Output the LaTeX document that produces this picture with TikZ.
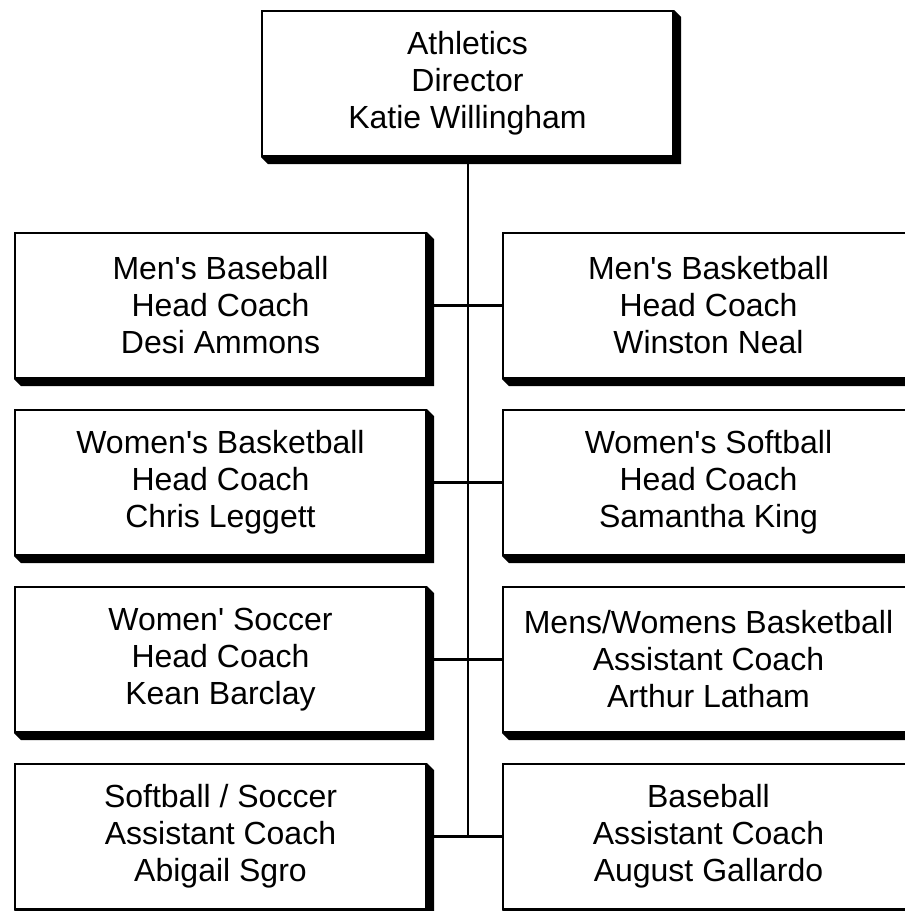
\documentclass[tikz,border=0pt]{standalone}
\usepackage{fontspec}
\setmainfont{Liberation Sans}[Ligatures=TeXOff]
\usetikzlibrary{calc}
\tikzset{
  orgbox/.style={draw=black, fill=white, line width=2pt, rectangle,
    minimum width=411pt, minimum height=145pt, inner sep=0pt,
    align=center, font=\fontsize{32}{37}\selectfont},
  link/.style={draw=black, line width=2.2pt}
}
\newcommand{\boxshadow}[1]{%
  \fill[black] (#1.north east) -- ++(7,7) -- ($(#1.south east)+(7,7)$)
    -- ($(#1.south west)+(7,7)$) -- (#1.south west) -- (#1.south east) -- cycle;}
\begin{document}
\begin{tikzpicture}[x=1pt,y=-1pt]
\useasboundingbox (0,0) rectangle (905,911);
\clip (0,0) rectangle (905,911);
\coordinate (j4) at (468,837);
\node[orgbox] (ad) at (467.5,83.5) {Athletics\\Director\\Katie Willingham};
\node[orgbox] (l1) at (220.5,305.5) {Men's Baseball\\Head Coach\\Desi Ammons};
\node[orgbox] (r1) at (708.5,305.5) {Men's Basketball\\Head Coach\\Winston Neal};
\node[orgbox] (l2) at (220.5,482.5) {Women's Basketball\\Head Coach\\Chris Leggett};
\node[orgbox] (r2) at (708.5,482.5) {Women's Softball\\Head Coach\\Samantha King};
\node[orgbox] (l3) at (220.5,659.5) {Women' Soccer\\Head Coach\\Kean Barclay};
\node[orgbox] (r3) at (708.5,659.5) {Mens/Womens Basketball\\Assistant Coach\\Arthur Latham};
\node[orgbox] (l4) at (220.5,836.5) {Softball / Soccer\\Assistant Coach\\Abigail Sgro};
\node[orgbox] (r4) at (708.5,836.5) {Baseball\\Assistant Coach\\August Gallardo};
\foreach \n in {ad,l1,r1,l2,r2,l3,r3,l4,r4} {\boxshadow{\n}}
\draw[link] (ad.south -| j4) -- (j4);
\draw[link] (l1.east) -- (r1.west);
\draw[link] (l2.east) -- (r2.west);
\draw[link] (l3.east) -- (r3.west);
\draw[link] (l4.east) -- (r4.west);
\end{tikzpicture}
\end{document}
